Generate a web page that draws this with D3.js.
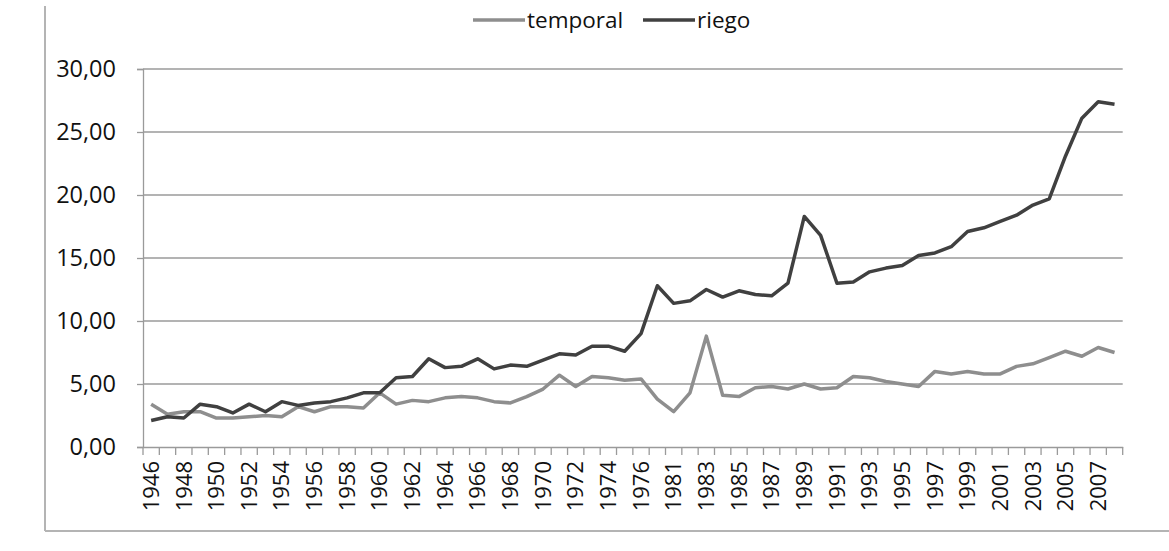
<!DOCTYPE html>
<html><head><meta charset="utf-8">
<script src="https://cdn.jsdelivr.net/npm/d3@7"></script>
<style>body{margin:0;background:#fff;} svg{display:block;}</style>
</head><body>
<svg id="c" width="1169" height="551"></svg>
<script>
const years = ["1946","1947","1948","1949","1950","1951","1952","1953","1954","1955","1956","1957","1958","1959","1960","1961","1962","1963","1964","1965","1966","1967","1968","1969","1970","1971","1972","1973","1974","1975","1976","1977","1981","1982","1983","1984","1985","1986","1987","1988","1989","1990","1991","1992","1993","1994","1995","1996","1997","1998","1999","2000","2001","2002","2003","2004","2005","2006","2007","2008"];
const temporal = [3.4,2.6,2.8,2.8,2.3,2.3,2.4,2.5,2.4,3.2,2.8,3.2,3.2,3.1,4.3,3.4,3.7,3.6,3.9,4.0,3.9,3.6,3.5,4.0,4.6,5.7,4.8,5.6,5.5,5.3,5.4,3.8,2.8,4.3,8.8,4.1,4.0,4.7,4.8,4.6,5.0,4.6,4.7,5.6,5.5,5.2,5.0,4.8,6.0,5.8,6.0,5.8,5.8,6.4,6.6,7.1,7.6,7.2,7.9,7.5];
const riego = [2.1,2.4,2.3,3.4,3.2,2.7,3.4,2.8,3.6,3.3,3.5,3.6,3.9,4.3,4.3,5.5,5.6,7.0,6.3,6.4,7.0,6.2,6.5,6.4,6.9,7.4,7.3,8.0,8.0,7.6,9.0,12.8,11.4,11.6,12.5,11.9,12.4,12.1,12.0,13.0,18.3,16.8,13.0,13.1,13.9,14.2,14.4,15.2,15.4,15.9,17.1,17.4,17.9,18.4,19.2,19.7,23.1,26.1,27.4,27.2];
const yTicks = [0,5,10,15,20,25,30];
const seriesNames = ["temporal","riego"];
const seriesColors = ["#8e8e8e","#404040"];

const svg = d3.select("#c");
const font = "'Open Sans', 'Liberation Sans', sans-serif";
const m = {l:143, r:1122.7, t:69, b:447};

// frame
svg.append("line").attr("x1",45).attr("x2",45).attr("y1",6).attr("y2",531).attr("stroke","#b4b4b4").attr("stroke-width",2);
svg.append("line").attr("x1",45).attr("x2",1169).attr("y1",531).attr("y2",531).attr("stroke","#b4b4b4").attr("stroke-width",2);

const x = d3.scaleBand().domain(years).range([m.l, m.r]).padding(0);
const y = d3.scaleLinear().domain([0,30]).range([m.b, m.t]);

// gridlines
svg.append("g").selectAll("line").data(yTicks.filter(d=>d>0)).join("line")
  .attr("x1",m.l).attr("x2",m.r).attr("y1",d=>y(d)).attr("y2",d=>y(d))
  .attr("stroke","#9a9a9a").attr("stroke-width",1.3);

// y axis
const yAxis = d3.axisLeft(y).tickValues(yTicks).tickSize(6).tickPadding(21)
  .tickFormat(d=>d3.format(".2f")(d).replace(".",","));
const gy = svg.append("g").attr("transform",`translate(${m.l},0)`).call(yAxis);
gy.select(".domain").attr("stroke","#9a9a9a").attr("stroke-width",1.3);
gy.selectAll(".tick line").attr("stroke","#9a9a9a").attr("stroke-width",1.3);
gy.selectAll("text").attr("font-family",font).attr("font-size",23.5).attr("fill","#111");

// x axis
const gx = svg.append("g").attr("transform",`translate(0,${m.b})`)
  .call(d3.axisBottom(x).tickSize(0).tickFormat((d,i)=>i%2===0?d:""));
gx.select(".domain").attr("stroke","#9a9a9a").attr("stroke-width",1.3);
gx.selectAll(".tick text")
  .attr("font-family",font).attr("font-size",22).attr("fill","#111")
  .attr("transform","rotate(-90)").attr("text-anchor","end")
  .attr("x",-14).attr("y",0).attr("dy","0.35em");
// boundary ticks
const bounds = years.map(d=>x(d)).concat([m.r]);
svg.append("g").selectAll("line").data(bounds).join("line")
  .attr("x1",d=>d).attr("x2",d=>d).attr("y1",m.b).attr("y2",m.b+8)
  .attr("stroke","#9a9a9a").attr("stroke-width",1.3);

// lines
const line = d3.line().x((d,i)=>x(years[i])+x.bandwidth()/2).y(d=>y(d));
[temporal, riego].forEach((s,k)=>{
  svg.append("path").datum(s).attr("d",line).attr("fill","none")
    .attr("stroke",seriesColors[k]).attr("stroke-width",3.5).attr("stroke-linejoin","round");
});

// legend
const lg = [{x:473, name:seriesNames[0], c:seriesColors[0]},{x:643, name:seriesNames[1], c:seriesColors[1]}];
lg.forEach(d=>{
  svg.append("line").attr("x1",d.x).attr("x2",d.x+52).attr("y1",20).attr("y2",20)
    .attr("stroke",d.c).attr("stroke-width",3.5);
  svg.append("text").attr("x",d.x+54).attr("y",20).attr("dy","0.35em")
    .attr("font-family",font).attr("font-size",22.5).attr("fill","#111").text(d.name);
});
</script>
</body></html>
